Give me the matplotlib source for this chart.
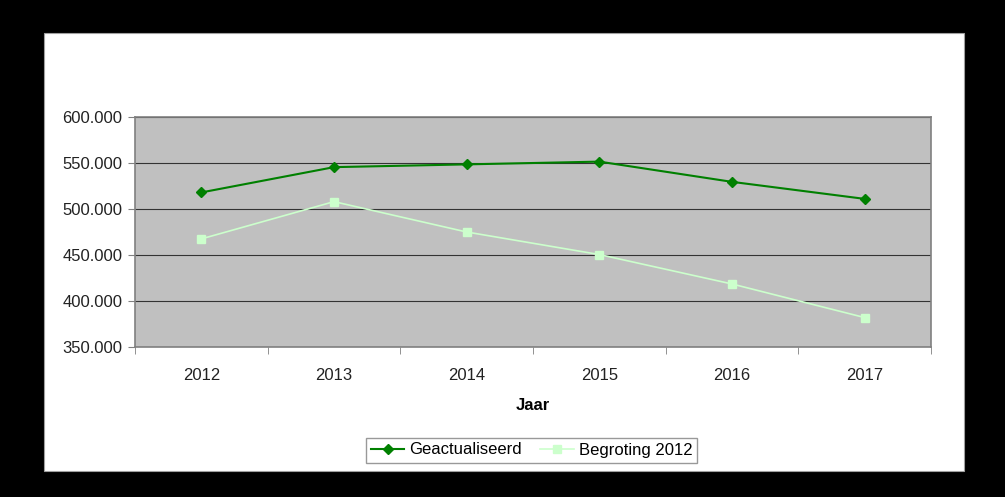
import matplotlib
matplotlib.use("Agg")
import matplotlib.pyplot as plt
from matplotlib.patches import Rectangle
from matplotlib.ticker import FuncFormatter, FixedLocator

years = ["2012", "2013", "2014", "2015", "2016", "2017"]
geactualiseerd = [518000, 545500, 548500, 551500, 529500, 511000]
begroting_2012 = [467500, 508000, 475000, 450500, 418500, 382000]

plt.rcParams['font.family'] = ['Liberation Sans', 'DejaVu Sans']

W, H = 1005, 497
fig = plt.figure(figsize=(W / 100, H / 100), dpi=100, facecolor="black")

# white chart panel inside the black frame
fig.patches.append(Rectangle((44 / W, 1 - 471 / H), (964 - 44) / W, (471 - 33) / H,
                             transform=fig.transFigure, facecolor="white",
                             edgecolor="#a0a0a0", lw=0.8, zorder=-10))

ax = fig.add_axes([135 / W, 1 - 347 / H, (931 - 135) / W, (347 - 117) / H])
ax.set_facecolor("#c0c0c0")

x = list(range(len(years)))
ax.plot(x, geactualiseerd, color="#008000", lw=1.5, marker="D", ms=5,
        label="Geactualiseerd", zorder=3)
ax.plot(x, begroting_2012, color="#ccffcc", lw=1.2, marker="s", ms=6,
        label="Begroting 2012", zorder=3)

ax.set_xlim(-0.5, len(years) - 0.5)
ax.set_ylim(350000, 600000)
ax.set_yticks(range(350000, 600001, 50000))
ax.yaxis.set_major_formatter(FuncFormatter(lambda v, p: f"{int(v):,}".replace(",", ".")))
ax.set_xticks(x)
ax.set_xticklabels(years)
ax.xaxis.set_minor_locator(FixedLocator([i - 0.5 for i in range(len(years) + 1)]))
ax.tick_params(axis="x", which="major", length=0, pad=15, labelsize=12, labelcolor="#222222")
ax.tick_params(axis="x", which="minor", length=5, color="#808080")
ax.tick_params(axis="y", length=5, color="#808080", labelsize=12, labelcolor="#222222", pad=4)
ax.grid(axis="y", color="#333333", lw=0.8)
ax.set_axisbelow(True)
for s in ax.spines.values():
    s.set_color("#808080")
    s.set_linewidth(1.2)

ax.set_xlabel("Jaar", fontsize=12, fontweight="bold", labelpad=11)

ax.legend(loc="center", bbox_to_anchor=((364 + 699) / 2 / W, 1 - 450 / H),
          bbox_transform=fig.transFigure, ncol=2, frameon=True, fancybox=False,
          edgecolor="#808080", fontsize=12, handlelength=2.0, columnspacing=1.1,
          handletextpad=0.3, borderpad=0.3)

fig.savefig("out.png", dpi=100, facecolor="black")
